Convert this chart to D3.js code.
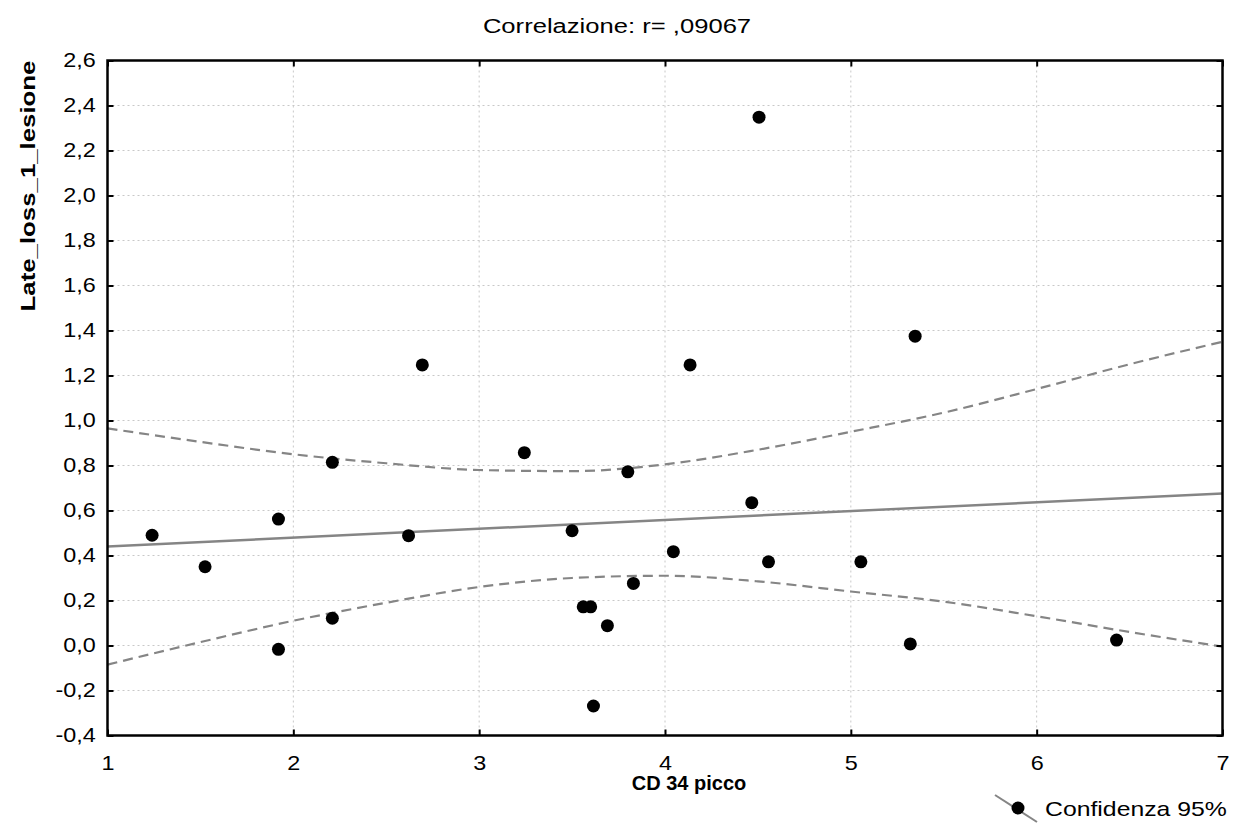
<!DOCTYPE html>
<html>
<head>
<meta charset="utf-8">
<script src="https://cdn.jsdelivr.net/npm/d3@7"></script>
<style>
  body { margin: 0; background: #fff; }
  text { font-family: "Liberation Sans", Arial, sans-serif; fill: #000; }
</style>
</head>
<body>
<svg id="canvas" width="1239" height="830"></svg>
<script>
// data
var cd34 = [1.24, 1.525, 1.92, 1.92, 2.21, 2.21, 2.62, 2.694, 3.243, 3.50, 3.56, 3.60, 3.615,
            3.69, 3.80, 3.83, 4.045, 4.135, 4.467, 4.506, 4.557, 5.054, 5.32, 5.346, 6.43];
var lateLoss = [0.49, 0.35, 0.562, -0.017, 0.121, 0.814, 0.488, 1.247, 0.857, 0.51, 0.172, 0.172, -0.269,
                0.088, 0.772, 0.276, 0.417, 1.247, 0.635, 2.348, 0.372, 0.372, 0.007, 1.375, 0.024];

var fit_x = [1, 7];
var fit_y = [0.44, 0.676];

var band_x     = [1, 1.5, 2, 2.5, 3, 3.5, 4, 4.5, 5, 5.5, 6, 6.5, 7];
var band_lower = [-0.085, 0.015, 0.11, 0.19, 0.26, 0.30, 0.31, 0.285, 0.24, 0.195, 0.13, 0.06, -0.005];
var band_upper = [0.965, 0.905, 0.85, 0.81, 0.78, 0.775, 0.805, 0.87, 0.95, 1.035, 1.14, 1.25, 1.35];

var x_ticks = [1, 2, 3, 4, 5, 6, 7];
var y_ticks = d3.range(-4, 27, 2).map(function(d){ return d/10; });

var title_text = 'Correlazione: r= ,09067';
var x_title = 'CD 34 picco';
var y_title = 'Late_loss_1_lesione';
var legend_text = 'Confidenza 95%';

// ************************************************************************************************** //
// Setup

var svg = d3.select('#canvas');
var plot = { left: 107.5, right: 1222.5, top: 60.5, bottom: 735.5 };

var xScale = d3.scaleLinear().domain([1, 7]).range([plot.left, plot.right]);
var yScale = d3.scaleLinear().domain([-0.4, 2.6]).range([plot.bottom, plot.top]);

var it = d3.formatLocale({ decimal: ',', thousands: '.', grouping: [3], currency: ['', ' €'], minus: '-' });
var fmtY = it.format('.1f');

svg.append('rect').attr('width', 1239).attr('height', 830).attr('fill', '#fff');

// ************************************************************************************************** //
// Grid

var grid = svg.append('g');
grid.selectAll('line.vx').data(x_ticks.slice(1, -1)).enter().append('line')
  .attr('x1', function(d){ return xScale(d); }).attr('x2', function(d){ return xScale(d); })
  .attr('y1', plot.top).attr('y2', plot.bottom)
  .style('stroke', '#c8c8c8').style('stroke-width', 1).style('stroke-dasharray', '2,3');
grid.selectAll('line.hy').data(y_ticks.slice(1, -1)).enter().append('line')
  .attr('y1', function(d){ return yScale(d); }).attr('y2', function(d){ return yScale(d); })
  .attr('x1', plot.left).attr('x2', plot.right)
  .style('stroke', '#c8c8c8').style('stroke-width', 1).style('stroke-dasharray', '2,3');

// ************************************************************************************************** //
// Fit line and confidence band

var line_gen = d3.line().x(function(d){ return xScale(d[0]); }).y(function(d){ return yScale(d[1]); });
var band_gen = d3.line().curve(d3.curveMonotoneX).x(function(d){ return xScale(d[0]); }).y(function(d){ return yScale(d[1]); });

svg.append('path').attr('d', line_gen(d3.zip(fit_x, fit_y)))
  .style('stroke', '#858585').style('stroke-width', 2.5).style('fill', 'none');

[band_lower, band_upper].forEach(function(b){
  svg.append('path').attr('d', band_gen(d3.zip(band_x, b)))
    .style('stroke', '#858585').style('stroke-width', 2.2).style('stroke-dasharray', '10,6').style('fill', 'none');
});

// ************************************************************************************************** //
// Points

svg.append('g').selectAll('circle').data(d3.zip(cd34, lateLoss)).enter().append('circle')
  .attr('cx', function(d){ return xScale(d[0]); })
  .attr('cy', function(d){ return yScale(d[1]); })
  .attr('r', 6.5).style('fill', '#000');

// ************************************************************************************************** //
// Axes

function styleAxis(g){
  g.select('.domain').remove();
  g.selectAll('.tick line').style('stroke', '#000').style('stroke-width', 2);
  g.selectAll('.tick text').style('font-size', '20px').style('font-family', '"Liberation Sans", Arial, sans-serif');
}

var yAxis = svg.append('g').attr('transform', 'translate(' + plot.left + ',0)')
  .call(d3.axisLeft(yScale).tickValues(y_ticks).tickFormat(fmtY).tickSize(-6).tickPadding(10))
  .call(styleAxis);
yAxis.selectAll('.tick text').attr('transform', 'scale(1.17,1)');

svg.append('g').attr('transform', 'translate(' + plot.right + ',0)')
  .call(d3.axisRight(yScale).tickValues(y_ticks).tickFormat('').tickSize(-6))
  .call(styleAxis);

var xAxis = svg.append('g').attr('transform', 'translate(0,' + plot.bottom + ')')
  .call(d3.axisBottom(xScale).tickValues(x_ticks).tickFormat(d3.format('d')).tickSize(-6).tickPadding(20))
  .call(styleAxis);
xAxis.selectAll('.tick text').attr('transform', 'scale(1.17,1)');

svg.append('g').attr('transform', 'translate(0,' + plot.top + ')')
  .call(d3.axisTop(xScale).tickValues(x_ticks).tickFormat('').tickSize(-6))
  .call(styleAxis);

svg.append('rect').attr('x', plot.left).attr('y', plot.top)
  .attr('width', plot.right - plot.left).attr('height', plot.bottom - plot.top)
  .style('fill', 'none').style('stroke', '#000').style('stroke-width', 2.5);

// ************************************************************************************************** //
// Titles and legend

svg.append('text').attr('transform', 'translate(617,33) scale(1.28,1)').attr('text-anchor', 'middle')
  .style('font-size', '20px').text(title_text);

svg.append('text').attr('transform', 'translate(689,790)').attr('text-anchor', 'middle')
  .style('font-size', '20px').style('font-weight', 'bold').text(x_title);

svg.append('text').attr('transform', 'translate(35,186) rotate(-90) scale(1.29,1)').attr('text-anchor', 'middle')
  .style('font-size', '20px').style('font-weight', 'bold').text(y_title);

var legend = svg.append('g').attr('transform', 'translate(1018,808)');
legend.append('line').attr('x1', -23).attr('y1', -13).attr('x2', 19).attr('y2', 14)
  .style('stroke', '#858585').style('stroke-width', 2);
legend.append('circle').attr('r', 6.5).style('fill', '#000');
legend.append('text').attr('transform', 'translate(27,8) scale(1.24,1)').style('font-size', '20px').text(legend_text);
</script>
</body>
</html>
